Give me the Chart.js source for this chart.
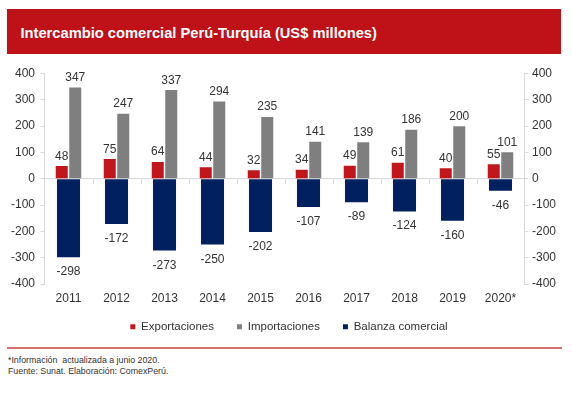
<!DOCTYPE html>
<html><head><meta charset="utf-8">
<script src="https://cdn.jsdelivr.net/npm/chart.js@4"></script>
<style>
html,body{margin:0;padding:0;background:#fff;width:572px;height:395px;overflow:hidden;font-family:"Liberation Sans",Arial,sans-serif;}
#banner{position:absolute;left:7px;top:9px;width:554px;height:45px;background:#BE1118;}
#title{position:absolute;left:20.5px;top:24px;height:18px;line-height:18px;font-size:14.7px;font-weight:bold;color:#fff;white-space:nowrap;}
#wrap{position:absolute;left:0;top:60px;width:572px;height:293px;}
#rule{position:absolute;left:7px;top:346.5px;width:555px;height:2px;background:#D9706B;}
.note{position:absolute;left:8px;font-size:8.8px;color:#333;white-space:nowrap;line-height:11px;}
</style></head><body>
<div id="banner"></div>
<div id="title">Intercambio comercial Perú-Turquía (US$ millones)</div>
<div id="wrap"><canvas id="c" width="572" height="293"></canvas></div>
<div id="rule"></div>
<div class="note" style="top:354.5px">*Información&nbsp; actualizada a junio 2020.</div>
<div class="note" style="top:365.5px">Fuente: Sunat. Elaboración: ComexPerú.</div>
<script>
const categories = ['2011','2012','2013','2014','2015','2016','2017','2018','2019','2020*'];
const exportaciones = [48,75,64,44,32,34,49,61,40,55];
const importaciones = [347,247,337,294,235,141,139,186,200,101];
const balanza = [-298,-172,-273,-250,-202,-107,-89,-124,-160,-46];
const seriesNames = ['Exportaciones','Importaciones','Balanza comercial'];
const yMin = -400, yMax = 400, yStep = 100;

const FONT = '"Liberation Sans", Arial, sans-serif';
const TXT = '#333333';

const valueLabels = {
  id: 'valueLabels',
  afterDatasetsDraw(chart) {
    const ctx = chart.ctx;
    ctx.save();
    ctx.font = '12px ' + FONT;
    ctx.fillStyle = TXT;
    ctx.textAlign = 'center';
    ctx.textBaseline = 'alphabetic';
    chart.data.datasets.forEach((ds, di) => {
      const meta = chart.getDatasetMeta(di);
      meta.data.forEach((el, i) => {
        const v = ds.data[i];
        const y = v >= 0 ? el.y - 6.5 : el.y + 18;
        ctx.fillText(String(v), el.x, y);
      });
    });
    ctx.restore();
  }
};

const catTicks = {
  id: 'catTicks',
  beforeDatasetsDraw(chart) {
    const xs = chart.scales.x, ys = chart.scales.y;
    const ctx = chart.ctx;
    const y0 = Math.round(ys.getPixelForValue(0)) + 0.5;
    const half = (xs.getPixelForValue(1) - xs.getPixelForValue(0)) / 2;
    ctx.save();
    ctx.strokeStyle = '#d9d9d9';
    ctx.lineWidth = 1;
    for (let i = 0; i < categories.length - 1; i++) {
      const x = Math.round(xs.getPixelForValue(i) + half) + 0.5;
      ctx.beginPath();
      ctx.moveTo(x, y0);
      ctx.lineTo(x, y0 + 4);
      ctx.stroke();
    }
    ctx.restore();
  }
};

const legendShift = {
  id: 'legendShift',
  afterLayout(chart) {
    const lg = chart.legend;
    if (!lg) return;
    lg.top -= 10; lg.bottom -= 10;
    lg.left += 3; lg.right += 3;
  }
};

new Chart(document.getElementById('c'), {
  type: 'bar',
  data: {
    labels: categories,
    datasets: [
      { label: seriesNames[0], data: exportaciones, backgroundColor: '#C0161C', borderWidth: 0,
        categoryPercentage: 0.5625, barPercentage: 0.89 },
      { label: seriesNames[1], data: importaciones, backgroundColor: '#7F7F7F', borderWidth: 0,
        categoryPercentage: 0.5625, barPercentage: 0.89 },
      { label: seriesNames[2], data: balanza, backgroundColor: '#002060', borderWidth: 0,
        grouped: false, categoryPercentage: 0.48, barPercentage: 1.0 }
    ]
  },
  options: {
    responsive: false,
    animation: false,
    devicePixelRatio: 1,
    layout: { padding: { top: 13.5, bottom: 0.5, left: 0, right: 0 } },
    plugins: {
      tooltip: { enabled: false },
      title: { display: false },
      legend: {
        position: 'bottom',
        labels: { boxWidth: 5, boxHeight: 5, padding: 23, color: TXT, font: { family: FONT, size: 11.5 } }
      }
    },
    scales: {
      x: {
        offset: true,
        grid: { display: false, drawTicks: false },
        border: { display: false },
        ticks: { color: TXT, padding: 7, font: { family: FONT, size: 12 } },
        afterFit(s) { s.height = 24; }
      },
      y: {
        position: 'left',
        min: yMin, max: yMax,
        ticks: { stepSize: yStep, color: TXT, padding: 5.5, font: { family: FONT, size: 12 } },
        grid: {
          color: c => (c.tick && c.tick.value === 0) ? '#d9d9d9' : 'rgba(0,0,0,0)',
          tickColor: '#d9d9d9', tickLength: 4, lineWidth: 1
        },
        border: { color: '#d9d9d9' },
        afterFit(s) { s.width = 44.5; }
      },
      y2: {
        position: 'right',
        min: yMin, max: yMax,
        ticks: { stepSize: yStep, color: TXT, padding: 3.5, font: { family: FONT, size: 12 } },
        grid: { drawOnChartArea: false, tickColor: '#d9d9d9', tickLength: 4 },
        border: { color: '#d9d9d9' },
        afterFit(s) { s.width = 47.5; }
      }
    }
  },
  plugins: [catTicks, valueLabels, legendShift]
});
</script>
</body></html>
